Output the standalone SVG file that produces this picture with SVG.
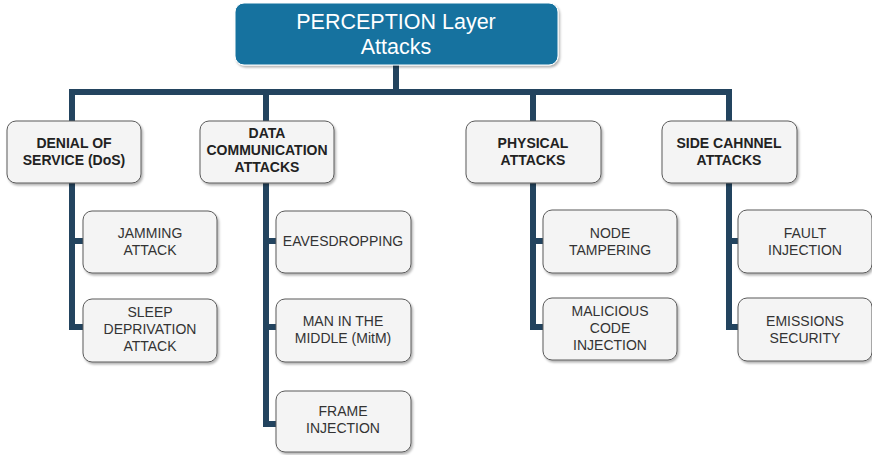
<svg xmlns="http://www.w3.org/2000/svg" width="872" height="455" viewBox="0 0 872 455">
  <defs>
    <filter id="shadow" x="-10%" y="-10%" width="130%" height="140%">
      <feDropShadow dx="1.5" dy="2" stdDeviation="1.2" flood-color="#000" flood-opacity="0.3"/>
    </filter>
    <style>
      .box { fill: #f4f4f4; stroke: #5a5a5a; stroke-width: 1; filter: url(#shadow); }
      .root { fill: #12729f; stroke: #ffffff; stroke-width: 1; filter: url(#shadow); }
      .wire { fill: none; stroke: #23445f; stroke-width: 6; stroke-linejoin: miter; }
      .t1 { font-family: "Liberation Sans", Arial, sans-serif; font-size: 14px; font-weight: bold; fill: #222; text-anchor: middle; }
      .t2 { font-family: "Liberation Sans", Arial, sans-serif; font-size: 14px; fill: #333; text-anchor: middle; }
      .t0 { font-family: "Liberation Sans", Arial, sans-serif; font-size: 21.5px; fill: #ffffff; text-anchor: middle; }
    </style>
  </defs>

  <!-- connectors -->
  <g id="connectors" class="wire">
    <line x1="396" y1="64" x2="396" y2="92"/>
    <line x1="69" y1="92" x2="732" y2="92"/>
    <polyline points="72,89 72,327 84,327"/>
    <line x1="72" y1="241" x2="84" y2="241"/>
    <polyline points="266,89 266,424 277,424"/>
    <line x1="266" y1="241" x2="277" y2="241"/>
    <line x1="266" y1="327" x2="277" y2="327"/>
    <polyline points="533,89 533,327 544,327"/>
    <line x1="533" y1="241" x2="544" y2="241"/>
    <polyline points="729,89 729,327 739,327"/>
    <line x1="729" y1="241" x2="739" y2="241"/>
  </g>

  <!-- root -->
  <g id="root">
    <rect class="root" x="235" y="3" width="323" height="62" rx="9"/>
    <text class="t0" x="396" y="29">PERCEPTION Layer</text>
    <text class="t0" x="396" y="54">Attacks</text>
  </g>

  <!-- first level -->
  <g id="dos">
    <rect class="box" x="7" y="121" width="134" height="62" rx="9"/>
    <text class="t1" x="74" y="148">DENIAL OF</text>
    <text class="t1" x="74" y="165">SERVICE (DoS)</text>
  </g>
  <g id="datacomm">
    <rect class="box" x="200" y="121" width="134" height="62" rx="9"/>
    <text class="t1" x="267" y="138">DATA</text>
    <text class="t1" x="267" y="155">COMMUNICATION</text>
    <text class="t1" x="267" y="172">ATTACKS</text>
  </g>
  <g id="physical">
    <rect class="box" x="466" y="121" width="135" height="62" rx="9"/>
    <text class="t1" x="533" y="148">PHYSICAL</text>
    <text class="t1" x="533" y="165">ATTACKS</text>
  </g>
  <g id="sidechannel">
    <rect class="box" x="662" y="121" width="135" height="62" rx="9"/>
    <text class="t1" x="729" y="148">SIDE CAHNNEL</text>
    <text class="t1" x="729" y="165">ATTACKS</text>
  </g>

  <!-- second level -->
  <g id="jamming">
    <rect class="box" x="83" y="211" width="134" height="62" rx="9"/>
    <text class="t2" x="150" y="238">JAMMING</text>
    <text class="t2" x="150" y="255">ATTACK</text>
  </g>
  <g id="sleep">
    <rect class="box" x="83" y="299" width="134" height="63" rx="9"/>
    <text class="t2" x="150" y="317">SLEEP</text>
    <text class="t2" x="150" y="334">DEPRIVATION</text>
    <text class="t2" x="150" y="351">ATTACK</text>
  </g>
  <g id="eavesdropping">
    <rect class="box" x="276" y="211" width="135" height="62" rx="9"/>
    <text class="t2" x="343" y="246">EAVESDROPPING</text>
  </g>
  <g id="mitm">
    <rect class="box" x="276" y="299" width="135" height="63" rx="9"/>
    <text class="t2" x="343" y="326">MAN IN THE</text>
    <text class="t2" x="343" y="343">MIDDLE (MitM)</text>
  </g>
  <g id="frame">
    <rect class="box" x="276" y="391" width="135" height="61" rx="9"/>
    <text class="t2" x="343" y="416">FRAME</text>
    <text class="t2" x="343" y="433">INJECTION</text>
  </g>
  <g id="tampering">
    <rect class="box" x="543" y="210" width="134" height="63" rx="9"/>
    <text class="t2" x="610" y="238">NODE</text>
    <text class="t2" x="610" y="255">TAMPERING</text>
  </g>
  <g id="malicious">
    <rect class="box" x="543" y="298" width="134" height="62" rx="9"/>
    <text class="t2" x="610" y="316">MALICIOUS</text>
    <text class="t2" x="610" y="333">CODE</text>
    <text class="t2" x="610" y="350">INJECTION</text>
  </g>
  <g id="fault">
    <rect class="box" x="738" y="210" width="134" height="63" rx="9"/>
    <text class="t2" x="805" y="238">FAULT</text>
    <text class="t2" x="805" y="255">INJECTION</text>
  </g>
  <g id="emissions">
    <rect class="box" x="738" y="298" width="134" height="63" rx="9"/>
    <text class="t2" x="805" y="326">EMISSIONS</text>
    <text class="t2" x="805" y="343">SECURITY</text>
  </g>
</svg>
